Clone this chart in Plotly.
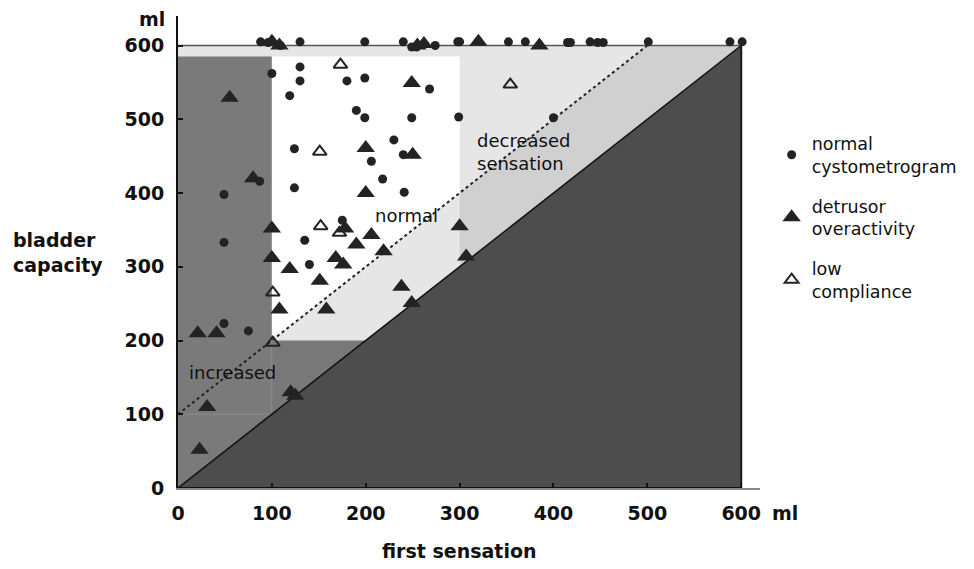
import plotly.graph_objects as go

# ---------------- data (ml) ----------------
normal_x = [88, 96, 109, 130, 199, 240, 249, 254, 274, 298, 300, 352, 370, 415, 418, 439, 447, 453, 501, 588, 601,
            100, 130, 130, 180, 199, 268, 119, 190, 199, 249, 299, 400, 124, 230, 240, 206, 218, 87, 124, 241, 49,
            49, 175, 135, 140, 49, 75]
normal_y = [605, 604, 600, 605, 605, 605, 598, 598, 600, 605, 605, 605, 605, 604, 604, 605, 604, 604, 605, 605, 605,
            562, 571, 552, 552, 556, 541, 532, 512, 502, 502, 503, 502, 460, 472, 452, 443, 419, 416, 407, 401, 398,
            333, 363, 336, 303, 223, 213]

detrusor_x = [100, 108, 255, 262, 320, 385,
              249, 55, 200, 250, 80, 200, 100, 178, 206, 190, 219, 100, 168, 176, 119, 151, 108, 158,
              21, 41, 238, 249, 300, 307, 120, 125, 31, 23]
detrusor_y = [605, 600, 600, 602, 605, 600,
              549, 529, 461, 452, 420, 400, 352, 352, 343, 330, 321, 312, 312, 303, 297, 281, 242, 242,
              210, 210, 273, 251, 355, 314, 130, 125, 110, 52]

lowcomp_x = [173, 354, 151, 152, 172, 101, 101]
lowcomp_y = [574, 547, 456, 355, 346, 265, 197]

tick_vals = [0, 100, 200, 300, 400, 500, 600]
tick_text = ["0", "100", "200", "300", "400", "500", "600"]

# zone thresholds (ml)
AX_MAX = 600
FS_LOW = 100
FS_HIGH = 300
CAP_LOW = 200
CAP_BAND = 585
DOT_OFFSET = 100

FONT = "DejaVu Sans, Verdana, sans-serif"
MARK = "#232323"

fig = go.Figure()

fig.add_trace(go.Scatter(x=normal_x, y=normal_y, mode="markers", name="normal<br>cystometrogram",
                         legendgroup="a", cliponaxis=False,
                         marker=dict(symbol="circle", size=9, color=MARK)))
fig.add_trace(go.Scatter(x=detrusor_x, y=detrusor_y, mode="markers", name="detrusor<br>overactivity",
                         legendgroup="b", cliponaxis=False,
                         marker=dict(symbol="triangle-up", size=16, color=MARK)))
fig.add_trace(go.Scatter(x=lowcomp_x, y=lowcomp_y, mode="markers", name="low<br>compliance",
                         legendgroup="c", cliponaxis=False,
                         marker=dict(symbol="triangle-up-open", size=12, color=MARK,
                                     line=dict(width=2, color=MARK))))


def poly(pts):
    return "M " + " L ".join(f"{a},{b}" for a, b in pts) + " Z"


shapes = []
shapes.append(dict(type="path", path=poly([(0, 0), (AX_MAX, AX_MAX), (0, AX_MAX)]),
                   fillcolor="#e6e6e6", line=dict(width=0), layer="below"))
shapes.append(dict(type="path",
                   path=poly([(FS_HIGH, FS_HIGH), (AX_MAX, AX_MAX), (AX_MAX - DOT_OFFSET, AX_MAX),
                              (FS_HIGH, FS_HIGH + DOT_OFFSET)]),
                   fillcolor="#d0d0d0", line=dict(width=0), layer="below"))
shapes.append(dict(type="path", path=poly([(0, 0), (FS_LOW, FS_LOW), (FS_LOW, CAP_BAND), (0, CAP_BAND)]),
                   fillcolor="#7a7a7a", line=dict(width=0), layer="below"))
shapes.append(dict(type="path", path=poly([(FS_LOW, FS_LOW), (CAP_LOW, CAP_LOW), (FS_LOW, CAP_LOW)]),
                   fillcolor="#787878", line=dict(width=0), layer="below"))
shapes.append(dict(type="path",
                   path=poly([(FS_LOW, CAP_LOW), (FS_LOW, CAP_BAND), (FS_HIGH, CAP_BAND),
                              (FS_HIGH, FS_HIGH + DOT_OFFSET)]),
                   fillcolor="#ffffff", line=dict(width=0), layer="below"))
shapes.append(dict(type="path", path=poly([(0, 0), (AX_MAX, AX_MAX), (AX_MAX, 0)]),
                   fillcolor="#4d4d4d", line=dict(width=0), layer="below"))
shapes.append(dict(type="line", x0=0, y0=FS_LOW, x1=FS_LOW, y1=FS_LOW,
                   line=dict(color="#8e8e8e", width=1), layer="below"))
shapes.append(dict(type="line", x0=FS_LOW, y0=FS_LOW, x1=FS_LOW, y1=CAP_LOW,
                   line=dict(color="#888888", width=1), layer="below"))
shapes.append(dict(type="line", x0=0, y0=0, x1=AX_MAX, y1=AX_MAX,
                   line=dict(color="#111111", width=1.5), layer="below"))
shapes.append(dict(type="line", x0=0, y0=DOT_OFFSET, x1=AX_MAX - DOT_OFFSET, y1=AX_MAX,
                   line=dict(color="#222222", width=2, dash="dot"), layer="below"))
shapes.append(dict(type="line", x0=0, y0=AX_MAX, x1=AX_MAX, y1=AX_MAX,
                   line=dict(color="#555555", width=1.5), layer="below"))
shapes.append(dict(type="line", x0=AX_MAX, y0=0, x1=AX_MAX, y1=AX_MAX,
                   line=dict(color="#1a1a1a", width=2), layer="below"))
shapes.append(dict(type="line", x0=0, y0=0, x1=AX_MAX, y1=0,
                   line=dict(color="#111111", width=2), layer="below"))

annotations = [
    dict(text="normal", x=243, y=369, xref="x", yref="y", showarrow=False,
         font=dict(family=FONT, size=18, color="#111")),
    dict(text="increased", x=58, y=157, xref="x", yref="y", showarrow=False,
         font=dict(family=FONT, size=18, color="#111")),
    dict(text="decreased<br>sensation", x=316, y=455, xref="x", yref="y", showarrow=False,
         xanchor="left", align="left", font=dict(family=FONT, size=18, color="#111")),
    dict(text="ml", x=0, y=636, xref="x", yref="y", showarrow=False, xanchor="right", xshift=-11,
         font=dict(family=FONT, size=19, color="#111", weight="bold")),
    dict(text="ml", x=1.043, y=-0.053, xref="paper", yref="paper", showarrow=False,
         xanchor="center", yanchor="middle",
         font=dict(family=FONT, size=19, color="#111", weight="bold")),
    dict(text="first sensation", x=0.4845, y=-0.1335, xref="paper", yref="paper", showarrow=False,
         xanchor="center", yanchor="middle",
         font=dict(family=FONT, size=19, color="#111", weight="bold")),
    dict(text="bladder<br>capacity", x=-0.287, y=320, xref="paper", yref="y", showarrow=False,
         xanchor="left", yanchor="middle", align="left",
         font=dict(family=FONT, size=19, color="#111", weight="bold")),
]

axis_common = dict(showgrid=False, zeroline=False, showline=True, linewidth=2,
                   ticks="inside", ticklen=5, tickwidth=1.5, tickcolor="#111",
                   tickvals=tick_vals, ticktext=tick_text,
                   tickfont=dict(family=FONT, size=19, color="#111", weight="bold"))

fig.update_layout(
    width=958, height=553,
    margin=dict(l=170, r=206, t=8, b=73, autoexpand=False),
    paper_bgcolor="white", plot_bgcolor="white",
    xaxis=dict(range=[0, 620], linecolor="#888888", ticklabelstandoff=7, automargin=False, **axis_common),
    yaxis=dict(range=[0, 640], linecolor="#111111", ticklabelstandoff=8, automargin=False, **axis_common),
    shapes=shapes,
    annotations=annotations,
    showlegend=True,
    legend=dict(x=1.02, y=0.768, xanchor="left", yanchor="top", valign="middle",
                font=dict(family=FONT, size=17.5, color="#111"),
                tracegroupgap=14, bgcolor="rgba(0,0,0,0)"),
    hovermode=False,
)

fig.write_html("out.html")
